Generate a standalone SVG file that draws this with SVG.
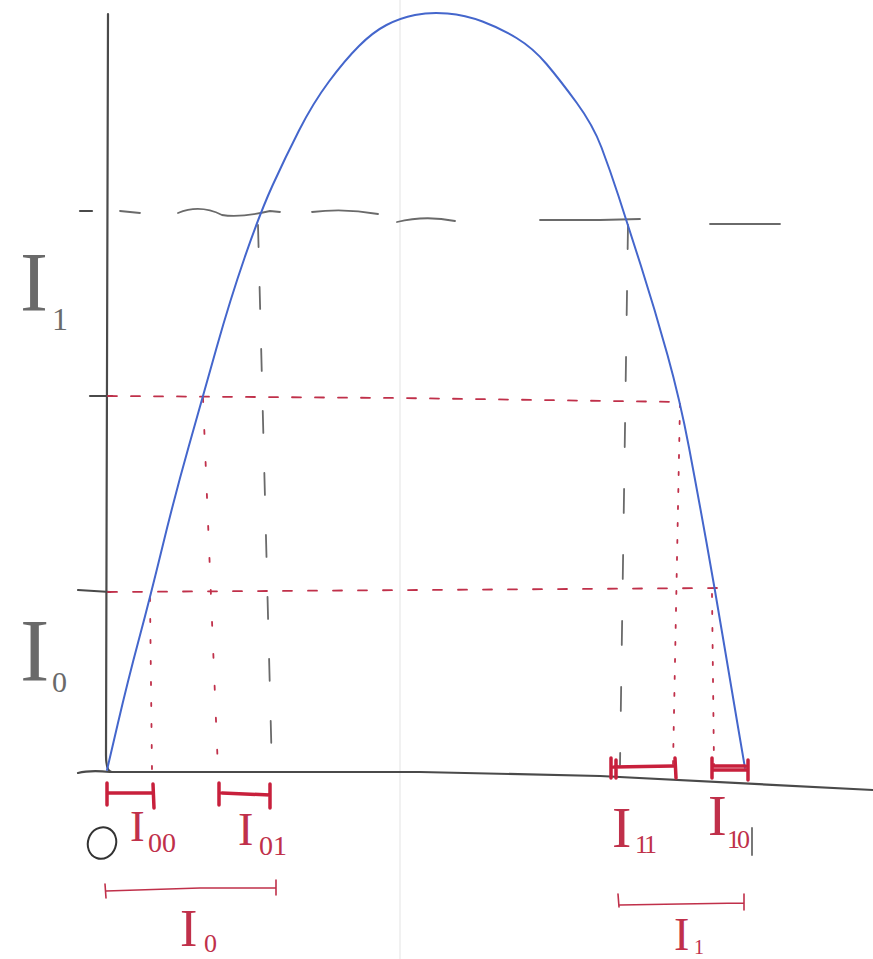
<svg xmlns="http://www.w3.org/2000/svg" width="873" height="959" viewBox="0 0 873 959">
<style>
.ax{fill:none;stroke:#4a4a4a;stroke-width:2.2;stroke-linecap:round}
.gd{fill:none;stroke:#6a6a6a;stroke-width:1.8;stroke-linecap:round}
.rd{fill:none;stroke:#c0304a;stroke-width:1.8;stroke-linecap:round}
.rb{fill:none;stroke:#c8203c;stroke-width:3.5;stroke-linecap:round}
.rt{fill:none;stroke:#c0304a;stroke-width:1.6;stroke-linecap:round}
.curve{fill:none;stroke:#4466cc;stroke-width:2;stroke-linejoin:round;stroke-linecap:round}
.lbr{font-family:"Liberation Serif",serif;fill:#c0304a}
.lbg{font-family:"Liberation Serif",serif;fill:#6a6a6a}
</style>
<rect width="873" height="959" fill="#ffffff"/>
<line x1="400" y1="0" x2="400" y2="959" stroke="#ececec" stroke-width="1.5"/>
<g id="axes">
<path class="ax" d="M108,14 C109,200 106,500 106,755 Q106,772 112,772"/>
<path class="ax" d="M78,773 Q90,770 110,772 L420,772 L600,776 L873,790"/>
<line class="ax" x1="80" y1="211" x2="92" y2="211" stroke-width="1.6"/>
<line class="ax" x1="90" y1="396" x2="112" y2="396"/>
<line class="ax" x1="78" y1="590" x2="110" y2="592"/>
</g>
<g id="guides">
<path class="gd" d="M120,211 L140,213 M178,213 Q200,204 222,215 Q240,218 270,211 L280,212 M312,212 Q345,208 378,214 M397,222 Q425,215 455,221 M540,220 L600,220 L640,219 M710,224 L780,224"/>
<path class="gd" d="M258,225 L272,772" stroke-dasharray="22,40"/>
<path class="gd" d="M628,225 L620,765" stroke-dasharray="24,42"/>
<line class="gd" x1="752" y1="828" x2="752" y2="855" stroke-width="1.4"/>
<path class="rd" d="M108,396 L400,398 L680,402" stroke-dasharray="9,14"/>
<path class="rd" d="M108,592 L420,590 L720,588" stroke-dasharray="9,16"/>
<path class="rd" d="M150,598 L152,770" stroke-dasharray="3,18" stroke-width="2.5"/>
<path class="rd" d="M203,398 L218,770" stroke-dasharray="4,28"/>
<path class="rd" d="M680,404 L673,765" stroke-dasharray="3,14"/>
<path class="rd" d="M712,594 L714,765" stroke-dasharray="3,14"/>
</g>
<g id="curve">
<path class="curve" d="M107,770 L117.5,725 Q128,680 139,639 Q150,598 162.5,546.5 Q175,495 189,445.5 Q203,396 216.5,348 Q230,300 245,256.5 Q260,213 272.5,185.5 Q285,158 299,130.5 Q313,103 329,81.5 Q345,60 359,46 Q373,32 386.5,25 Q400,18 415,15 Q430,12 447.5,13.5 Q465,15 482.5,21.5 Q500,28 516.5,38 Q533,48 546.5,64 Q560,80 576.5,102.5 Q593,125 601.5,147.5 Q610,170 618.5,196 Q627,222 641,266 Q655,310 667.5,355 Q680,400 689,447.5 Q698,495 706.5,542.5 Q715,590 722.5,635 Q730,680 737.5,724 L745,768"/>
</g>
<g id="intervals">
<path class="rb" d="M107,783 L107,805 M108,793 L152,793 M153,784 L154,808"/>
<path class="rb" d="M219,783 L219,805 M222,793 L270,795 M270,784 L270,808"/>
<path class="rb" d="M611,758 L611,778 M616,760 L616,778 M614,767 L673,766 M675,758 L676,778"/>
<path class="rb" d="M712,758 L712,778 M712,770 L748,770 M712,766 L745,766 M748,760 L748,780"/>
<path class="rt" d="M105,884 L106,898 M106,891 L200,888 L276,888 M276,880 L276,895"/>
<path class="rt" d="M618,894 L619,907 M620,905 L680,904 L744,903 M744,894 L744,910"/>
</g>
<g id="labels">
<ellipse cx="102" cy="843" rx="14" ry="16" transform="rotate(20 102 843)" fill="none" stroke="#333" stroke-width="2"/>
<text class="lbr" x="130" y="841" font-size="44">I</text>
<text class="lbr" x="148" y="852" font-size="28">00</text>
<text class="lbr" x="238" y="845" font-size="46">I</text>
<text class="lbr" x="259" y="855" font-size="28">01</text>
<text class="lbr" x="612" y="847" font-size="58">I</text>
<text class="lbr" x="635" y="853" font-size="26" letter-spacing="-3">11</text>
<text class="lbr" x="708" y="835" font-size="56">I</text>
<text class="lbr" x="727" y="848" font-size="26" letter-spacing="-3">10</text>
<text class="lbr" x="180" y="946" font-size="52">I</text>
<text class="lbr" x="204" y="952" font-size="26">0</text>
<text class="lbr" x="674" y="950" font-size="46">I</text>
<text class="lbr" x="694" y="954" font-size="20">1</text>
<text class="lbg" x="20" y="311" font-size="84">I</text>
<text class="lbg" x="52" y="330" font-size="32">1</text>
<text class="lbg" x="20" y="680" font-size="88">I</text>
<text class="lbg" x="52" y="692" font-size="30">0</text>
</g>
</svg>
